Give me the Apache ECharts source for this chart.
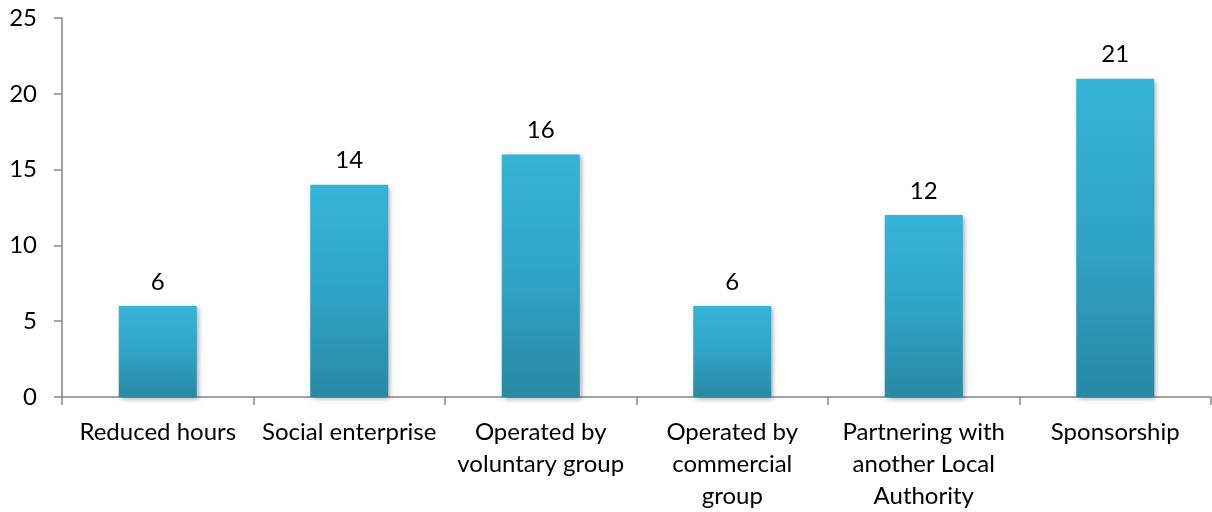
<!DOCTYPE html>
<html>
<head>
<meta charset="utf-8">
<script src="https://cdn.jsdelivr.net/npm/echarts@6/dist/echarts.min.js"></script>
<style>html,body{margin:0;padding:0;background:#fff}#c{width:1212px;height:512px}</style>
</head>
<body>
<div id="c"></div>
<script>
const categories = ["Reduced hours", "Social enterprise", "Operated by\nvoluntary group", "Operated by\ncommercial\ngroup", "Partnering with\nanother Local\nAuthority", "Sponsorship"];
const values = [6, 14, 16, 6, 12, 21];
const yTicks = { min: 0, max: 25, interval: 5 };

const chart = echarts.init(document.getElementById('c'), null, { renderer: 'canvas' });
const font = 'Lato, "Open Sans", sans-serif';
chart.setOption({
  animation: false,
  grid: { left: 62, right: 1, top: 18, bottom: 113, containLabel: false },
  xAxis: {
    type: 'category',
    data: categories,
    axisLine: { lineStyle: { color: '#868686', width: 1.5 } },
    axisTick: { show: true, length: 8, lineStyle: { color: '#868686', width: 1.5 } },
    axisLabel: { color: '#000', fontFamily: font, fontSize: 24, lineHeight: 32, margin: 19, interval: 0 }
  },
  yAxis: {
    type: 'value',
    min: yTicks.min, max: yTicks.max, interval: yTicks.interval,
    splitLine: { show: false },
    axisLine: { show: true, lineStyle: { color: '#868686', width: 1.5 } },
    axisTick: { show: true, length: 8, lineStyle: { color: '#868686', width: 1.5 } },
    axisLabel: { color: '#000', fontFamily: font, fontSize: 24, margin: 25 }
  },
  series: [{
    type: 'bar',
    data: values,
    barWidth: 78,
    itemStyle: {
      color: new echarts.graphic.LinearGradient(0, 0, 0, 1, [
        { offset: 0, color: '#36b3d8' },
        { offset: 0.5, color: '#30a4c6' },
        { offset: 1, color: '#2889a4' }
      ]),
      shadowColor: 'rgba(0,0,0,0.35)',
      shadowBlur: 5,
      shadowOffsetX: 2,
      shadowOffsetY: 2
    },
    label: { show: true, position: 'top', distance: 12, color: '#000', fontFamily: font, fontSize: 24 }
  }]
});
</script>
</body>
</html>
